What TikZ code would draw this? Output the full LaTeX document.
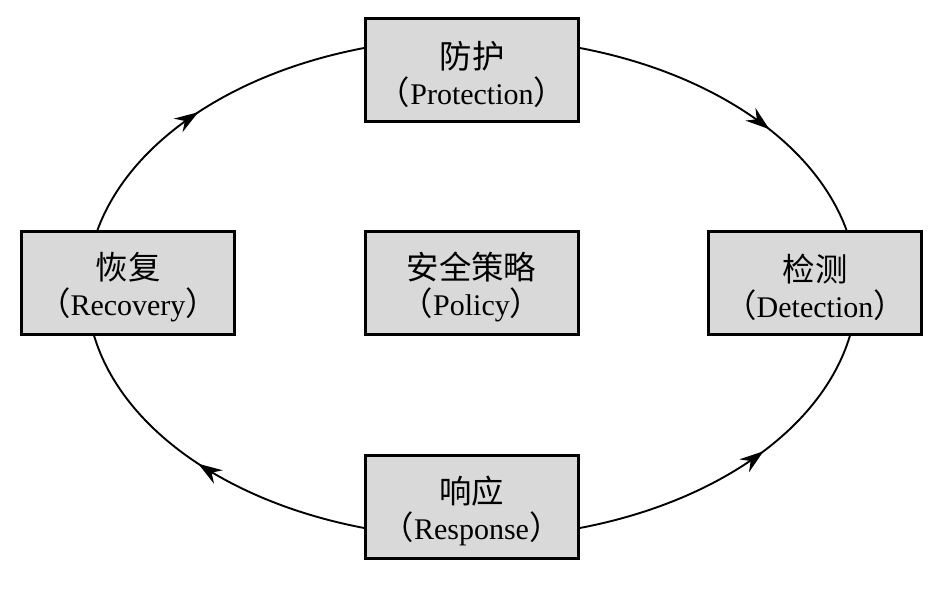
\documentclass[tikz,border=0pt]{standalone}
\usepackage{fontspec}
\setmainfont{Liberation Serif}
\newfontfamily\cjk[Scale=1.08]{Noto Sans CJK SC}
\usetikzlibrary{arrows.meta,decorations.markings,backgrounds}
\definecolor{boxgray}{HTML}{D9D9D9}
\begin{document}
\begin{tikzpicture}[x=1pt,y=1pt,
  box/.style={draw=black,line width=3pt,fill=boxgray,minimum width=213pt,minimum height=103pt,inner sep=0pt},
  txt/.style={align=center,inner sep=0pt,yshift=-4pt,font=\fontsize{30}{36}\selectfont},
  flow/.style={line width=1.9pt,postaction={decorate},decoration={markings,mark=at position #1 with {\arrow{Stealth[length=24pt,width=16pt,inset=8pt]}}}}]
\useasboundingbox (0,0) rectangle (945,596);
\node[box,label={[txt]center:{{\cjk 防护}\\{\cjk （}Protection{\cjk ）}}}] (prot) at (472,525.5) {};
\node[box,label={[txt]center:{{\cjk 恢复}\\{\cjk （}Recovery{\cjk ）}}}] (reco) at (128,313) {};
\node[box,label={[txt]center:{{\cjk 安全策略}\\{\cjk （}Policy{\cjk ）}}}] (poli) at (471.5,313) {};
\node[box,label={[txt]center:{{\cjk 检测}\\{\cjk （}Detection{\cjk ）}}}] (dete) at (815,313) {};
\node[box,label={[txt]center:{{\cjk 响应}\\{\cjk （}Response{\cjk ）}}}] (resp) at (471.5,89) {};
\begin{scope}[on background layer]
\coordinate (c) at (472,308);
\path (c) ++(75:385 and 250) coordinate (pd1);
\path (c) ++(-75:385 and 250) coordinate (rd1);
\path (c) ++(-105:385 and 250) coordinate (rr1);
\path (c) ++(167:385 and 250) coordinate (rp1);
\draw[flow=0.62] (pd1) arc[start angle=75,end angle=12.5,x radius=385,y radius=250] coordinate (pd2);
\draw[flow=0.58] (rd1) arc[start angle=-75,end angle=-10,x radius=385,y radius=250] coordinate (rd2);
\draw[flow=0.52] (rr1) arc[start angle=-105,end angle=-170,x radius=385,y radius=250] coordinate (rr2);
\draw[flow=0.46] (rp1) arc[start angle=167,end angle=105,x radius=385,y radius=250] coordinate (rp2);
\end{scope}
\end{tikzpicture}
\end{document}
